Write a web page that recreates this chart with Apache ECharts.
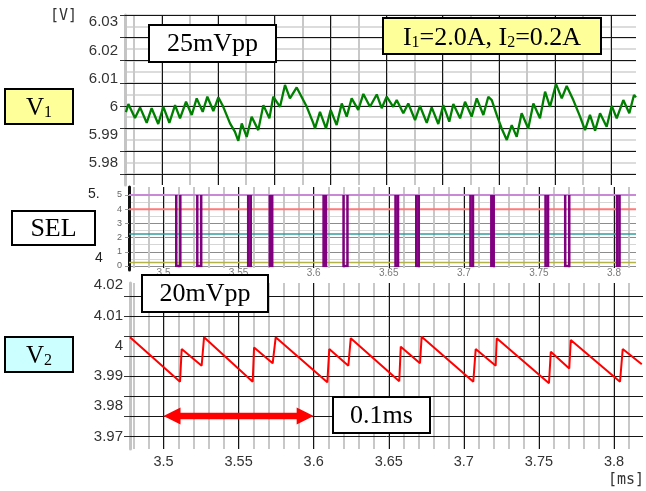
<!DOCTYPE html>
<html>
<head>
<meta charset="utf-8">
<title>V1 / SEL / V2</title>
<script src="https://cdn.jsdelivr.net/npm/echarts@6/dist/echarts.min.js"></script>
<style>
  html, body { margin: 0; padding: 0; background: #ffffff; }
  #chart { width: 646px; height: 491px; }
</style>
</head>
<body>
<div id="chart"></div>
<script>
// ---- data (time in ms, voltage in V) ----
const timeTicks = [3.5, 3.55, 3.6, 3.65, 3.7, 3.75, 3.8];
const minorTimeRange = [3.48, 3.81];
const minorTimeStep = 0.01;

const v1Ticks = [5.98, 5.99, 6, 6.01, 6.02, 6.03];
const v1Time = [
  3.4750, 3.4766, 3.4810, 3.4844, 3.4888, 3.4921, 3.4965, 3.4999, 3.5039, 3.5077,
  3.5110, 3.5150, 3.5188, 3.5221, 3.5261, 3.5292, 3.5332, 3.5365, 3.5398, 3.5443,
  3.5476, 3.5498, 3.5521, 3.5554, 3.5587, 3.5631, 3.5665, 3.5705, 3.5731, 3.5776,
  3.5809, 3.5842, 3.5887, 3.5954, 3.5998, 3.6009, 3.6042, 3.6082, 3.6113, 3.6153,
  3.6187, 3.6220, 3.6253, 3.6297, 3.6331, 3.6375, 3.6420, 3.6453, 3.6486, 3.6530,
  3.6553, 3.6597, 3.6630, 3.6675, 3.6708, 3.6753, 3.6786, 3.6830, 3.6863, 3.6903,
  3.6930, 3.6975, 3.7008, 3.7052, 3.7086, 3.7130, 3.7163, 3.7186, 3.7219, 3.7252,
  3.7286, 3.7319, 3.7352, 3.7385, 3.7429, 3.7463, 3.7507, 3.7541, 3.7574, 3.7614,
  3.7652, 3.7685, 3.7729, 3.7774, 3.7807, 3.7840, 3.7874, 3.7907, 3.7951, 3.7985,
  3.8018, 3.8062, 3.8102, 3.8133, 3.8147
];
const v1Volt = [
  5.9980, 6.0009, 5.9959, 5.9997, 5.9942, 5.9994, 5.9938, 5.9999, 5.9942, 6.0005,
  5.9958, 6.0017, 5.9970, 6.0029, 5.9981, 6.0035, 5.9984, 6.0033, 5.9999, 5.9940,
  5.9910, 5.9878, 5.9940, 5.9892, 5.9964, 5.9916, 6.0005, 5.9958, 6.0035, 5.9999,
  6.0077, 6.0029, 6.0068, 5.9999, 5.9940, 5.9922, 5.9981, 5.9922, 5.9988, 5.9934,
  6.0011, 5.9964, 6.0029, 5.9988, 6.0045, 5.9999, 6.0043, 5.9994, 6.0035, 5.9999,
  6.0023, 5.9976, 6.0011, 5.9952, 6.0002, 5.9942, 5.9997, 5.9938, 6.0005, 5.9946,
  6.0009, 5.9958, 6.0017, 5.9964, 6.0029, 5.9970, 6.0035, 6.0023, 5.9970, 5.9922,
  5.9881, 5.9934, 5.9892, 5.9976, 5.9922, 6.0011, 5.9958, 6.0053, 5.9999, 6.0080,
  6.0029, 6.0073, 6.0023, 5.9964, 5.9916, 5.9970, 5.9914, 5.9976, 5.9928, 6.0002,
  5.9958, 6.0023, 5.9976, 6.0041, 6.0033
];

const selTicks = [0, 1, 2, 3, 4, 5];
const selHigh = 5;
const selLow = 0;
const selLevels = [5, 4, 2.25, 0.25];
// [falling edge, rising edge] of each SEL pulse
const selPulses = [
  [3.5085, 3.5112], [3.5225, 3.5251], [3.5564, 3.5581], [3.5708, 3.5724],
  [3.6066, 3.6082], [3.6199, 3.6225], [3.6545, 3.6562], [3.6683, 3.6700],
  [3.7044, 3.7061], [3.7183, 3.7199], [3.7544, 3.7561], [3.7675, 3.7702],
  [3.8020, 3.8037]
];

const v2Ticks = [3.97, 3.98, 3.99, 4, 4.01, 4.02];
const v2Time = [
  3.4777, 3.5110, 3.5121, 3.5254, 3.5270, 3.5594, 3.5603, 3.5727, 3.5747, 3.6091,
  3.6104, 3.6231, 3.6247, 3.6570, 3.6580, 3.6708, 3.6719, 3.7063, 3.7079, 3.7212,
  3.7219, 3.7567, 3.7579, 3.7702, 3.7712, 3.8040, 3.8058, 3.8185
];
const v2Volt = [
  4.0028, 3.9881, 3.9989, 3.9934, 4.0028, 3.9881, 3.9994, 3.9942, 4.0028, 3.9879,
  3.9989, 3.9934, 4.0025, 3.9883, 3.9997, 3.9942, 4.0030, 3.9881, 3.9989, 3.9934,
  4.0025, 3.9876, 3.9980, 3.9925, 4.0019, 3.9881, 3.9989, 3.9939
];

// 0.1 ms span marker: [start, end, level]
const spanMarker = [[3.5, 3.6, 3.9768]];

// ---- layout & styles ----
const sans = '"Liberation Sans", Arial, sans-serif';
const serif = '"Liberation Serif", "Times New Roman", serif';
const mono = '"DejaVu Sans Mono", monospace';
const GRAY = '#c8c8c8';
const BLACK = '#151515';
const selLevelColors = ['#c88ad6', '#ff7a7a', '#2f9f9f', '#b3b347'];
const selLevelWidths = [2, 2, 1.5, 1.5];

// horizontal placement of the time axis
const tickPxFirst = 163.5, tickPxLast = 614;
const msPerPx = (timeTicks[timeTicks.length - 1] - timeTicks[0]) / (tickPxLast - tickPxFirst);
const tAt = px => timeTicks[0] + (px - tickPxFirst) * msPerPx;
const pxAt = t => tickPxFirst + (t - timeTicks[0]) / msPerPx;
const step = arr => Math.round((arr[1] - arr[0]) * 1e6) / 1e6;

const grids = [], xAxes = [], yAxes = [];
function addGrid(box) {
  grids.push(Object.assign({ show: false, containLabel: false, outerBoundsMode: 'none' }, box));
  return grids.length - 1;
}
const addX = cfg => (xAxes.push(cfg), xAxes.length - 1);
const addY = cfg => (yAxes.push(cfg), yAxes.length - 1);
function hiddenAxis(gi, min, max) {
  return { type: 'value', gridIndex: gi, min: min, max: max, show: false,
           splitLine: { show: false }, axisLine: { show: false } };
}
function lineAxis(gi, min, max, interval, color, width, extra) {
  return Object.assign({
    type: 'value', gridIndex: gi, min: min, max: max, interval: interval,
    axisLine: { show: false }, axisTick: { show: false }, axisLabel: { show: false },
    splitLine: { show: true, lineStyle: { color: color, width: width } }
  }, extra || {});
}
function labelAxis(gi, ticks, label, extra) {
  return Object.assign({
    type: 'value', gridIndex: gi, min: ticks[0], max: ticks[ticks.length - 1], interval: step(ticks),
    axisLine: { show: false }, axisTick: { show: false }, splitLine: { show: false },
    axisLabel: Object.assign({ show: true, fontFamily: sans, color: '#333' }, label)
  }, extra || {});
}
function frameAxis(gi, color, width) {
  return { type: 'value', gridIndex: gi, min: 0, max: 1, position: 'left',
           axisLine: { show: true, onZero: false, lineStyle: { color: color, width: width } },
           axisTick: { show: false }, axisLabel: { show: false }, splitLine: { show: false } };
}

// ---- V1 panel ----
const v1Left = 125, v1Right = 636, v1Top = 15, v1Bottom = 185;
const v1ColStep = 28.06, v1RowStep = 11.35;
const gV1 = addGrid({ left: v1Left, top: 22.3, width: v1Right - v1Left, height: 140.4 });
const xV1 = addX(hiddenAxis(gV1, tAt(v1Left), tAt(v1Right)));
const yV1 = addY(labelAxis(gV1, v1Ticks, { fontSize: 15, margin: 7 }));

let g = addGrid({ left: 134, top: v1Top, width: 17 * v1ColStep, height: v1Bottom - v1Top });
addX(lineAxis(g, 0, 17, 1, GRAY, 2)); addY(hiddenAxis(g, 0, 1));
g = addGrid({ left: 134 + v1ColStep, top: v1Top, width: 16 * v1ColStep, height: v1Bottom - v1Top });
addX(lineAxis(g, 0, 8, 1, BLACK, 1, { z: 1 })); addY(hiddenAxis(g, 0, 1));
g = addGrid({ left: v1Left, top: v1Top, width: v1Right - v1Left, height: 14 * v1RowStep });
addX(hiddenAxis(g, 0, 1));
addY(lineAxis(g, 0, 14, 1, '#d0d0d0', 1.5, { position: 'left' }));
addY(lineAxis(g, 0, 7, 1, BLACK, 1, { position: 'left', z: 1,
  axisTick: { show: true, length: 5, lineStyle: { color: '#333', width: 1 } } }));
g = addGrid({ left: v1Left, top: v1Top, width: v1Right - v1Left, height: v1Bottom - v1Top });
addX(hiddenAxis(g, 0, 1)); addY(frameAxis(g, '#c4c4c4', 3));

// ---- SEL panel ----
const selLeft = 129, selRight = 636, selTop = 187, selBottom = 268;
g = addGrid({ left: pxAt(minorTimeRange[0]), top: selTop, width: pxAt(minorTimeRange[1]) - pxAt(minorTimeRange[0]), height: selBottom - selTop });
addX(lineAxis(g, minorTimeRange[0], minorTimeRange[1], minorTimeStep, GRAY, 2)); addY(hiddenAxis(g, 0, 1));
g = addGrid({ left: pxAt(timeTicks[0]), top: selTop, width: pxAt(timeTicks[timeTicks.length - 1]) - pxAt(timeTicks[0]), height: selBottom - selTop });
addX(lineAxis(g, timeTicks[0], timeTicks[timeTicks.length - 1], step(timeTicks), BLACK, 1, { z: 1,
  axisLabel: { show: true, fontFamily: sans, fontSize: 10, color: '#7a7a7a', margin: 0 } }));
addY(hiddenAxis(g, 0, 1));
const gSel = addGrid({ left: selLeft, top: 195, width: selRight - selLeft, height: 71 });
const xSel = addX(hiddenAxis(gSel, tAt(selLeft), tAt(selRight)));
addY(lineAxis(gSel, selTicks[0], selTicks[selTicks.length - 1], 0.5, '#d6d6d6', 1, { position: 'left' }));
const ySel = addY(labelAxis(gSel, selTicks, { fontSize: 9, color: '#666', margin: 7 }, {
  position: 'left',
  axisTick: { show: true, length: 4, lineStyle: { color: '#999' } },
  splitLine: { show: true, lineStyle: { color: '#8c8c8c', width: 1 } }
}));
g = addGrid({ left: selLeft, top: selTop, width: selRight - selLeft, height: 83 });
addX(hiddenAxis(g, 0, 1)); addY(frameAxis(g, '#111', 3));

// ---- V2 panel ----
const v2Left = 130, v2Right = 643, v2Top = 283, v2Bottom = 449;
g = addGrid({ left: pxAt(minorTimeRange[0]), top: v2Top, width: pxAt(minorTimeRange[1]) - pxAt(minorTimeRange[0]), height: v2Bottom - v2Top });
addX(lineAxis(g, minorTimeRange[0], minorTimeRange[1], minorTimeStep, GRAY, 2)); addY(hiddenAxis(g, 0, 1));
g = addGrid({ left: pxAt(timeTicks[0]), top: v2Top, width: pxAt(timeTicks[timeTicks.length - 1]) - pxAt(timeTicks[0]), height: v2Bottom - v2Top });
addX(lineAxis(g, timeTicks[0], timeTicks[timeTicks.length - 1], step(timeTicks), BLACK, 1, { z: 1,
  axisLabel: { show: true, fontFamily: sans, fontSize: 14.5, color: '#333', margin: 5 } }));
addY(hiddenAxis(g, 0, 1));
g = addGrid({ left: v2Left, top: 296, width: v2Right - v2Left, height: 140 });
addX(hiddenAxis(g, 0, 1));
addY(lineAxis(g, 0, 7, 1, BLACK, 1, { position: 'left', z: 1,
  axisTick: { show: true, length: 6, lineStyle: { color: '#333', width: 1 } } }));
g = addGrid({ left: v2Left, top: v2Top, width: v2Right - v2Left, height: v2Bottom - v2Top });
addX(hiddenAxis(g, 0, 1)); addY(frameAxis(g, '#c4c4c4', 3));
const gV2 = addGrid({ left: v2Left, top: 285.25, width: v2Right - v2Left, height: 151.25 });
const xV2 = addX(hiddenAxis(gV2, tAt(v2Left), tAt(v2Right)));
const yV2 = addY(labelAxis(gV2, v2Ticks, { fontSize: 15, margin: 7 }));

// ---- series ----
const series = [];
series.push({
  type: 'line', xAxisIndex: xV1, yAxisIndex: yV1, symbol: 'none', silent: true,
  data: v1Time.map((t, i) => [t, v1Volt[i]]),
  lineStyle: { color: '#008000', width: 2.3 }, itemStyle: { color: '#008000' }, z: 3
});
selLevels.forEach((lv, i) => {
  series.push({
    type: 'line', xAxisIndex: xSel, yAxisIndex: ySel, symbol: 'none', silent: true,
    data: [[tAt(selLeft), lv], [tAt(selRight), lv]],
    lineStyle: { color: selLevelColors[i], width: selLevelWidths[i] }, z: 3
  });
});
const pulseData = [];
selPulses.forEach(p => {
  pulseData.push([p[0], selHigh], [p[0], selLow], [p[1], selLow], [p[1], selHigh], [p[1], '-']);
});
series.push({
  type: 'line', xAxisIndex: xSel, yAxisIndex: ySel, symbol: 'none', silent: true,
  data: pulseData, connectNulls: false,
  lineStyle: { color: '#800080', width: 2.5, join: 'miter' }, z: 4
});
series.push({
  type: 'line', xAxisIndex: xV2, yAxisIndex: yV2, symbol: 'none', silent: true,
  data: v2Time.map((t, i) => [t, v2Volt[i]]),
  lineStyle: { color: '#ff0000', width: 2 }, itemStyle: { color: '#ff0000' }, z: 3
});
// double-headed span arrow, placed through the V2 axes
series.push({
  type: 'custom', xAxisIndex: xV2, yAxisIndex: yV2, silent: true, z: 5,
  encode: { x: [0, 1], y: 2 },
  data: spanMarker,
  renderItem: function (params, api) {
    const a = api.coord([api.value(0), api.value(2)]);
    const b = api.coord([api.value(1), api.value(2)]);
    const y = a[1], hl = 17, hw = 8.5, sw = 3.2;
    return {
      type: 'polygon',
      shape: { points: [
        [a[0], y], [a[0] + hl, y - hw], [a[0] + hl, y - sw], [b[0] - hl, y - sw], [b[0] - hl, y - hw],
        [b[0], y], [b[0] - hl, y + hw], [b[0] - hl, y + sw], [a[0] + hl, y + sw], [a[0] + hl, y + hw]
      ] },
      style: { fill: '#ff0000' }
    };
  }
});

// ---- annotation boxes ----
function labelBox(x, y, w, h, fill, text, size) {
  const sub = Math.round(size * 0.62);
  return [
    { type: 'rect', z: 100, shape: { x: x, y: y, width: w, height: h },
      style: { fill: fill, stroke: '#000', lineWidth: 2 } },
    { type: 'text', z: 101, x: x + w / 2, y: y + h / 2 + 1,
      style: {
        text: text, fill: '#000', font: size + 'px ' + serif,
        align: 'center', verticalAlign: 'middle',
        rich: {
          m: { fontSize: size, fontFamily: serif, lineHeight: size + 2, verticalAlign: 'bottom', fill: '#000' },
          s: { fontSize: sub, fontFamily: serif, lineHeight: sub, verticalAlign: 'bottom', fill: '#000' }
        }
      } }
  ];
}
function plainText(x, y, text, font, color, align) {
  return { type: 'text', z: 101, x: x, y: y,
           style: { text: text, font: font, fill: color, align: align || 'center', verticalAlign: 'middle' } };
}
const graphic = [].concat(
  labelBox(5, 89, 68, 35, '#ffff99', '{m|V}{s|1}', 25),
  labelBox(12, 211, 83, 34, '#ffffff', 'SEL', 26),
  labelBox(5, 337, 68, 35, '#ccffff', '{m|V}{s|2}', 25),
  labelBox(149, 25, 127, 37, '#ffffff', '25mVpp', 26),
  labelBox(383, 18, 218, 36, '#ffff99', '{m|I}{s|1}{m|=2.0A, I}{s|2}{m|=0.2A}', 26),
  labelBox(142, 275, 126, 37, '#ffffff', '20mVpp', 26),
  labelBox(333, 397, 97, 36, '#ffffff', '0.1ms', 26),
  [
    plainText(63.5, 16, '[V]', '15px ' + mono, '#333'),
    plainText(626, 480, '[ms]', '15px ' + mono, '#333'),
    plainText(88, 194, '5.', '14px ' + sans, '#222', 'left'),
    plainText(95, 258, '4', '14px ' + sans, '#222', 'left')
  ]
);

const chart = echarts.init(document.getElementById('chart'), null, { renderer: 'canvas' });
chart.setOption({
  animation: false,
  backgroundColor: '#ffffff',
  textStyle: { fontFamily: sans },
  grid: grids,
  xAxis: xAxes,
  yAxis: yAxes,
  series: series,
  graphic: graphic
});
</script>
</body>
</html>
